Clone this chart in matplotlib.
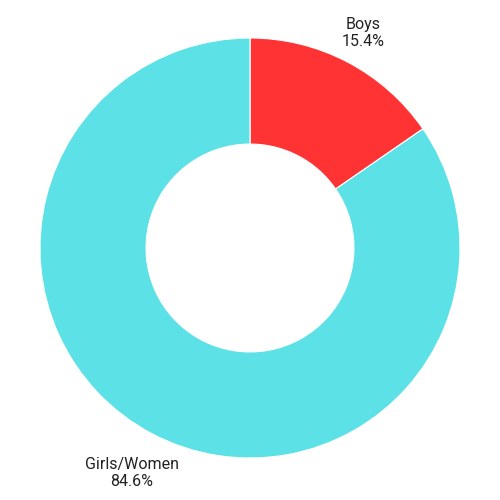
import numpy as np
import matplotlib
matplotlib.use("Agg")
import matplotlib.pyplot as plt

plt.rcParams['font.family'] = ['Roboto', 'DejaVu Sans']

# datos
labels = ['Boys', 'Girls/Women']
values = [15.4, 84.6]
colors = ['#FF3333', '#5CE1E6']

fig = plt.figure(figsize=(5, 5), dpi=100)
ax = fig.add_axes([0, 0, 1, 1])

wedges, _ = ax.pie(values, colors=colors, startangle=90, counterclock=False,
                   radius=1.0, wedgeprops=dict(width=0.505, edgecolor='white',
                                                linewidth=0.8))

# etiquetas fuera del anillo, en el ángulo medio de cada porción
for w, lab, val in zip(wedges, labels, values):
    ang = np.deg2rad((w.theta1 + w.theta2) / 2)
    r = 1.155 if np.sin(ang) > 0 else 1.21
    ax.text(r * np.cos(ang), r * np.sin(ang), f"{lab}\n{val}%",
            ha='center', va='center', fontsize=11.5, linespacing=1.2,
            color='#222222')

ax.set_xlim(-250 / 210, 250 / 210)
ax.set_ylim(-252 / 210, 248 / 210)
ax.set_aspect('equal')
ax.axis('off')

fig.savefig('out.png', dpi=100)
